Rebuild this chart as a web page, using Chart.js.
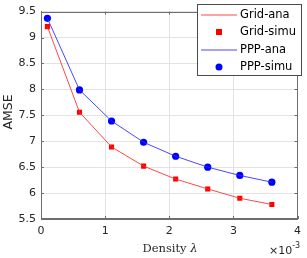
<!DOCTYPE html>
<html>
<head>
<meta charset="utf-8">
<script src="https://cdn.jsdelivr.net/npm/chart.js@4/dist/chart.umd.min.js"></script>
<style>
html,body{margin:0;padding:0;background:#fff;}
#wrap{width:307px;height:258px;position:relative;}
</style>
</head>
<body>
<div id="wrap"><canvas id="c" width="307" height="258"></canvas></div>
<script>
// Data (density in units of 1e-3)
const density = [0.1, 0.6, 1.1, 1.6, 2.1, 2.6, 3.1, 3.6];
const gridAna  = [9.21, 7.56, 6.89, 6.52, 6.27, 6.08, 5.90, 5.78];
const gridSimu = [9.21, 7.56, 6.89, 6.52, 6.27, 6.08, 5.90, 5.78];
const pppAna   = [9.37, 7.99, 7.39, 6.98, 6.71, 6.50, 6.34, 6.21];
const pppSimu  = [9.37, 7.99, 7.39, 6.98, 6.71, 6.50, 6.34, 6.21];
const seriesNames = ['Grid-ana', 'Grid-simu', 'PPP-ana', 'PPP-simu'];
const xTicks = [0, 1, 2, 3, 4];
const yTicks = [5.5, 6, 6.5, 7, 7.5, 8, 8.5, 9, 9.5];

const pts = (ys) => density.map((x, i) => ({x: x, y: ys[i]}));
const RED = '#ff0000', BLUE = '#0000ff';
const LRED = 'rgba(255,40,40,0.85)', LBLUE = 'rgba(40,40,255,0.85)';
const AX = '#6e6e6e', TXT = '#262626';

const decor = {
  id: 'decor',
  afterDatasetsDraw(chart) {
    const ctx = chart.ctx, a = chart.chartArea;
    const xs = chart.scales.x, ys = chart.scales.y;
    ctx.save();
    // box
    ctx.strokeStyle = AX; ctx.lineWidth = 1;
    ctx.strokeRect(Math.round(a.left) + 0.5, Math.round(a.top) + 0.5,
                   Math.round(a.right - a.left) - 1, Math.round(a.bottom - a.top) - 1);
    // inward ticks
    ctx.beginPath();
    xTicks.forEach(v => {
      const px = Math.round(xs.getPixelForValue(v)) + 0.5;
      ctx.moveTo(px, a.bottom); ctx.lineTo(px, a.bottom - 3);
      ctx.moveTo(px, a.top); ctx.lineTo(px, a.top + 3);
    });
    yTicks.forEach(v => {
      const py = Math.round(ys.getPixelForValue(v)) + 0.5;
      ctx.moveTo(a.left, py); ctx.lineTo(a.left + 3, py);
      ctx.moveTo(a.right, py); ctx.lineTo(a.right - 3, py);
    });
    ctx.stroke();

    // legend
    const lx = 197, ly = 4, lw = 105, lh = 72;
    ctx.fillStyle = '#fff';
    ctx.fillRect(lx, ly, lw, lh);
    ctx.strokeStyle = '#4a4a4a'; ctx.lineWidth = 1;
    ctx.strokeRect(lx + 0.5, ly + 0.5, lw - 1, lh - 1);
    const rows = [14.5, 32, 49.5, 67];
    ctx.font = '11.5px "DejaVu Sans"';
    ctx.textBaseline = 'middle'; ctx.textAlign = 'left';
    rows.forEach((y, i) => {
      if (i === 0 || i === 2) {
        ctx.strokeStyle = i === 0 ? LRED : LBLUE;
        ctx.beginPath(); ctx.moveTo(201, y + 0.5); ctx.lineTo(237, y + 0.5); ctx.stroke();
      } else if (i === 1) {
        ctx.fillStyle = RED; ctx.fillRect(216, y - 3, 6, 6);
      } else {
        ctx.fillStyle = BLUE; ctx.beginPath(); ctx.arc(219, y, 3.5, 0, Math.PI * 2); ctx.fill();
      }
      ctx.fillStyle = '#000';
      ctx.fillText(seriesNames[i], 240, y + 0.5);
    });

    // axis titles
    ctx.fillStyle = TXT;
    ctx.textBaseline = 'alphabetic';
    ctx.font = '11.5px "DejaVu Serif"';
    const t1 = 'Density ';
    ctx.font = '11.5px "DejaVu Serif"';
    const w1 = ctx.measureText(t1).width;
    ctx.font = 'italic 11.5px "DejaVu Serif"';
    const w2 = ctx.measureText('λ').width;
    let sx = 170 - (w1 + w2) / 2;
    ctx.font = '11.5px "DejaVu Serif"';
    ctx.fillText(t1, sx, 252);
    ctx.font = 'italic 11.5px "DejaVu Serif"';
    ctx.fillText('λ', sx + w1, 252);

    // exponent
    ctx.font = '11px "DejaVu Sans"';
    ctx.fillText('×10', 269, 254);
    const we = ctx.measureText('×10').width;
    ctx.font = '8px "DejaVu Sans"';
    ctx.fillText('-3', 269 + we, 248);

    // y title
    ctx.save();
    ctx.translate(12, 112);
    ctx.rotate(-Math.PI / 2);
    ctx.font = '12.5px "DejaVu Sans"';
    ctx.textAlign = 'center';
    ctx.fillText('AMSE', 0, 0);
    ctx.restore();
    ctx.restore();
  }
};

new Chart(document.getElementById('c'), {
  type: 'scatter',
  data: {
    datasets: [
      {label: seriesNames[0], data: pts(gridAna), showLine: true, borderColor: LRED, borderWidth: 1, pointRadius: 0, fill: false},
      {label: seriesNames[2], data: pts(pppAna), showLine: true, borderColor: LBLUE, borderWidth: 1, pointRadius: 0, fill: false},
      {label: seriesNames[1], data: pts(gridSimu), showLine: false, pointStyle: 'rect', pointRadius: 3.6, backgroundColor: RED, borderColor: RED, borderWidth: 0},
      {label: seriesNames[3], data: pts(pppSimu), showLine: false, pointStyle: 'circle', pointRadius: 3.6, backgroundColor: BLUE, borderColor: BLUE, borderWidth: 0}
    ]
  },
  options: {
    responsive: false,
    animation: false,
    devicePixelRatio: 1,
    layout: {autoPadding: false, padding: {top: 4, right: 5, left: 0, bottom: 0}},
    plugins: {legend: {display: false}, tooltip: {enabled: false}},
    scales: {
      x: {
        type: 'linear', min: 0, max: 4,
        afterFit: (s) => { s.height = 39; },
        afterBuildTicks: (s) => { s.ticks = xTicks.map(v => ({value: v})); },
        ticks: {font: {family: 'DejaVu Sans', size: 11}, color: TXT, padding: 6, maxRotation: 0, callback: v => String(v)},
        grid: {color: '#e3e3e3', drawTicks: false},
        border: {color: AX}
      },
      y: {
        type: 'linear', min: 5.5, max: 9.5,
        afterFit: (s) => { s.width = 41; },
        afterBuildTicks: (s) => { s.ticks = yTicks.map(v => ({value: v})); },
        ticks: {font: {family: 'DejaVu Sans', size: 11}, color: TXT, padding: 5, callback: v => String(v)},
        grid: {color: '#e3e3e3', drawTicks: false},
        border: {color: AX}
      }
    }
  },
  plugins: [decor]
});
</script>
</body>
</html>
